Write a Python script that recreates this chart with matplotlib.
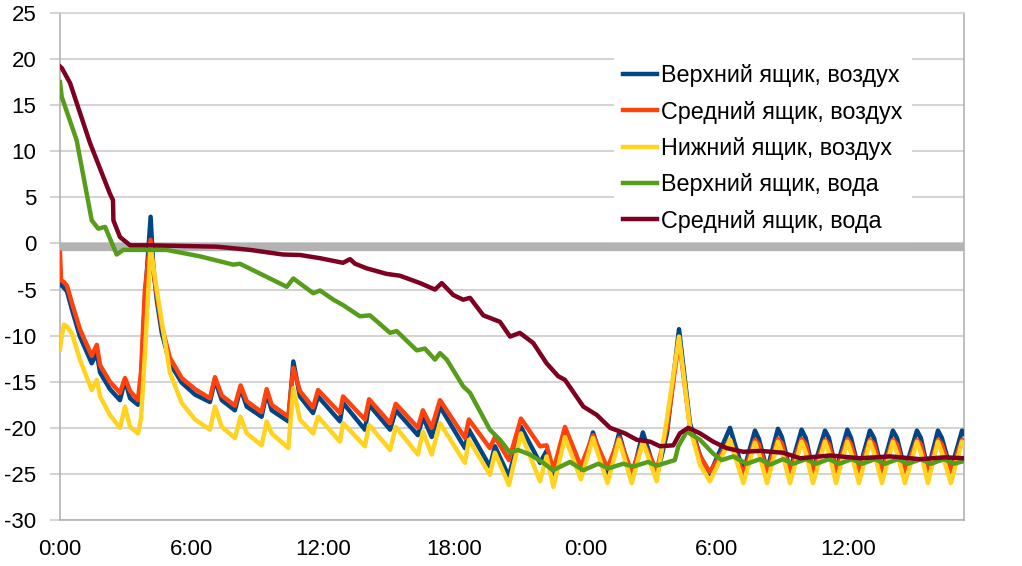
import matplotlib
matplotlib.use("Agg")
import matplotlib.pyplot as plt

plt.rcParams['font.family'] = ['Liberation Sans', 'DejaVu Sans']
plt.rcParams['axes.unicode_minus'] = False

# --- air probes: shared time axis (hours from start) ---
t_air = [0.00, 0.05, 0.18, 0.32, 0.55, 0.91, 1.45, 1.68, 1.83, 2.28,
         2.74, 2.97, 3.20, 3.56, 3.70, 3.88, 4.14, 4.26, 4.42, 4.65,
         5.02, 5.56, 6.17, 6.85, 7.08, 7.39, 7.99, 8.25, 8.53, 9.21,
         9.44, 9.67, 10.43, 10.66, 10.96, 11.56, 11.79, 12.79, 12.93, 13.93,
         14.12, 15.08, 15.34, 16.35, 16.58, 16.98, 17.36, 18.50, 18.68, 19.64,
         19.87, 20.51, 21.06, 21.93, 22.23, 22.54, 23.07, 23.80, 24.35, 25.01,
         25.54, 26.12, 26.63, 27.26, 27.73, 28.28, 28.78, 29.24, 29.69, 30.61,
         31.22, 31.75, 31.93, 32.30, 32.80, 32.98, 33.35, 33.88, 34.07, 34.40,
         34.95, 35.13, 35.45, 35.97, 36.14, 36.50, 37.00, 37.19, 37.55, 38.05,
         38.24, 38.60, 39.15, 39.33, 39.65, 40.11, 40.29, 40.70, 41.21, 41.30]

top_air = [-4.3, -4.5, -4.8, -5.2, -7.2, -10.1, -13.0, -11.9, -14.0, -15.8,
           -17.0, -14.8, -16.8, -17.5, -15.5, -6.1, 2.9, -2.5, -6.1, -9.7,
           -13.0, -15.1, -16.4, -17.2, -14.8, -17.0, -18.1, -15.7, -17.7, -18.8,
           -16.2, -18.1, -19.3, -12.8, -16.6, -18.4, -16.6, -19.3, -17.3, -20.2,
           -17.5, -20.2, -18.1, -20.8, -18.8, -21.0, -17.7, -22.2, -20.2, -24.2,
           -22.0, -25.3, -19.9, -23.8, -22.5, -25.5, -20.3, -25.2, -20.5, -25.4,
           -20.6, -25.5, -20.5, -25.3, -20.6, -9.3, -19.5, -23.0, -25.0, -20.0,
           -24.8, -20.3, -21.2, -24.6, -20.1, -21.0, -24.6, -20.2, -21.1, -24.6,
           -20.3, -21.1, -24.6, -20.2, -21.1, -24.6, -20.3, -21.1, -24.6, -20.3,
           -21.1, -24.6, -20.3, -21.1, -24.6, -20.3, -21.1, -24.6, -20.3, -20.6]

mid_air = [-1.0, -4.0, -4.2, -4.6, -6.5, -9.3, -12.2, -11.0, -13.2, -15.0,
           -16.2, -14.6, -16.0, -17.0, -14.0, -5.0, 0.4, -3.0, -5.5, -9.0,
           -12.4, -14.6, -15.8, -16.8, -14.5, -16.5, -17.6, -15.4, -17.1, -18.3,
           -15.8, -17.5, -18.8, -13.5, -16.0, -17.8, -15.9, -18.4, -16.6, -19.1,
           -16.9, -19.5, -17.4, -20.0, -18.1, -20.0, -17.0, -21.1, -19.1, -22.2,
           -21.0, -23.5, -19.0, -22.0, -21.9, -24.6, -19.9, -24.2, -20.8, -24.4,
           -21.1, -24.8, -21.5, -24.6, -20.0, -10.5, -19.9, -23.1, -24.8, -21.3,
           -25.0, -21.3, -21.8, -24.8, -21.2, -21.7, -24.8, -21.2, -21.8, -24.8,
           -21.3, -21.8, -24.8, -21.2, -21.8, -24.8, -21.3, -21.8, -24.8, -21.3,
           -21.8, -24.8, -21.3, -21.8, -24.8, -21.3, -21.8, -24.8, -21.3, -21.5]

low_air = [-11.5, -10.5, -8.8, -9.0, -9.8, -12.6, -15.9, -14.8, -16.6, -18.6,
           -20.0, -17.7, -19.9, -20.6, -19.0, -12.0, -0.3, -2.5, -5.0, -8.5,
           -14.0, -17.3, -19.1, -20.2, -17.7, -19.9, -21.1, -18.8, -20.6, -21.9,
           -19.3, -20.6, -22.2, -15.7, -19.1, -20.6, -18.8, -21.5, -19.5, -22.0,
           -19.7, -22.4, -19.9, -22.9, -20.4, -22.9, -19.5, -23.8, -21.3, -25.1,
           -22.7, -26.2, -20.6, -25.8, -23.1, -26.4, -21.0, -25.6, -21.1, -26.0,
           -21.3, -26.0, -21.5, -25.8, -19.0, -10.1, -20.0, -24.0, -25.8, -21.3,
           -26.0, -21.6, -22.8, -26.0, -21.5, -22.6, -26.0, -21.5, -22.7, -26.0,
           -21.5, -22.7, -26.0, -21.5, -22.7, -26.0, -21.5, -22.7, -26.0, -21.5,
           -22.7, -26.0, -21.5, -22.7, -26.0, -21.5, -22.7, -26.0, -21.5, -21.9]

# --- water probes ---
t_top_water = [0.00, 0.08, 0.76, 1.45, 1.75, 2.06, 2.59, 2.89, 4.87, 6.40,
               7.92, 8.22, 10.36, 10.66, 11.57, 11.88, 12.49, 12.94, 13.70, 14.16,
               15.08, 15.38, 16.30, 16.67, 17.13, 17.36, 17.67, 18.42, 18.73, 19.64,
               20.10, 20.56, 20.92, 21.47, 22.08, 22.52, 23.30, 23.91, 24.59, 25.05,
               25.73, 26.19, 26.87, 27.26, 28.09, 28.25, 28.63, 29.24, 29.84, 30.23,
               30.76, 31.37, 31.98, 32.44, 33.03, 33.49, 34.08, 34.54, 35.13, 35.59,
               36.18, 36.64, 37.23, 37.69, 38.28, 38.74, 39.33, 39.79, 40.38, 40.84,
               41.30]
top_water = [17.5, 15.9, 11.2, 2.5, 1.6, 1.8, -1.2, -0.7, -0.7, -1.4,
             -2.3, -2.2, -4.7, -3.8, -5.4, -5.1, -6.1, -6.7, -7.9, -7.8,
             -9.7, -9.5, -11.6, -11.4, -12.6, -11.9, -12.6, -15.5, -16.2, -20.2,
             -21.3, -22.7, -22.4, -22.9, -23.8, -24.6, -23.7, -24.6, -23.9, -24.4,
             -23.9, -24.2, -23.7, -24.1, -23.5, -22.0, -20.4, -21.3, -22.8, -23.5,
             -23.1, -23.9, -23.4, -24.0, -23.4, -23.9, -23.4, -23.9, -23.4, -23.9,
             -23.4, -23.9, -23.4, -23.9, -23.4, -23.9, -23.4, -23.9, -23.4, -23.9,
             -23.6]

t_mid_water = [0.00, 0.09, 0.46, 1.37, 2.28, 2.42, 2.44, 2.74, 3.20, 4.11,
               7.17, 8.68, 10.19, 10.96, 11.88, 12.93, 13.25, 13.48, 14.01, 14.92,
               15.53, 16.45, 17.13, 17.44, 17.97, 18.42, 18.73, 19.34, 20.10, 20.56,
               21.01, 21.62, 22.23, 22.76, 23.07, 23.91, 24.52, 25.13, 25.81, 26.35,
               26.96, 27.41, 28.02, 28.32, 28.70, 29.24, 29.84, 30.45, 31.22, 31.98,
               33.03, 33.81, 35.18, 36.55, 37.92, 39.29, 40.43, 41.30]
mid_water = [19.2, 19.0, 17.4, 10.9, 5.4, 4.7, 2.5, 0.7, -0.2, -0.2,
             -0.35, -0.7, -1.2, -1.25, -1.6, -2.1, -1.7, -2.2, -2.7, -3.3,
             -3.5, -4.3, -5.0, -4.3, -5.6, -6.1, -5.9, -7.8, -8.5, -10.1,
             -9.7, -10.8, -13.0, -14.4, -14.8, -17.7, -18.6, -20.0, -20.6, -21.3,
             -21.5, -22.0, -21.9, -20.6, -20.0, -20.6, -21.5, -22.2, -22.6, -22.5,
             -22.7, -23.3, -23.0, -23.3, -23.1, -23.4, -23.2, -23.3]

labels = ['Верхний ящик, воздух', 'Средний ящик, воздух', 'Нижний ящик, воздух',
          'Верхний ящик, вода', 'Средний ящик, вода']
colors = ['#004586', '#ff420e', '#ffd320', '#579d1c', '#7e0021']

hour_ticks = [0, 6, 12, 18, 24, 30, 36]
y_ticks = [-30, -25, -20, -15, -10, -5, 0, 5, 10, 15, 20, 25]

fig = plt.figure(figsize=(10.22, 5.66), dpi=100)
ax = fig.add_axes([60 / 1022, 1 - 520 / 566, 904 / 1022, 507 / 566])

ax.axhline(-0.4, color='#b3b3b3', linewidth=6, zorder=1)

series = [(t_air, top_air), (t_air, mid_air), (t_air, low_air),
          (t_top_water, top_water), (t_mid_water, mid_water)]
for (t, v), lab, c in zip(series, labels, colors):
    ax.plot(t, v, color=c, linewidth=3.2, label=lab, zorder=3,
            solid_joinstyle='round')

ax.set_xlim(0, 41.3)
ax.set_ylim(-30, 25)
ax.set_xticks(hour_ticks)
ax.set_xticklabels([f'{h % 24}:00' for h in hour_ticks])
ax.set_yticks(y_ticks)
ax.set_yticklabels([str(v) for v in y_ticks])

ax.grid(axis='y', color='#d4d4d4', linewidth=1.5, zorder=0)
ax.set_axisbelow(True)
for s in ax.spines.values():
    s.set_color('#b3b3b3')
    s.set_linewidth(1.2)
ax.spines['top'].set_color('#d4d4d4')

ax.tick_params(axis='y', length=7, color='#d4d4d4', width=1.5, pad=10, labelsize=16)
ax.tick_params(axis='x', length=0, pad=14, labelsize=16)

leg = ax.legend(loc='upper left', bbox_to_anchor=(614 / 1022, 1 - 55 / 566),
                bbox_transform=fig.transFigure, frameon=True, fancybox=False,
                edgecolor='none', facecolor='white', framealpha=1,
                fontsize=16.8, handlelength=1.45, handletextpad=0.18,
                labelspacing=0.57, borderpad=0.4, borderaxespad=0)
leg.set_zorder(5)

fig.savefig('out.png', dpi=100)
